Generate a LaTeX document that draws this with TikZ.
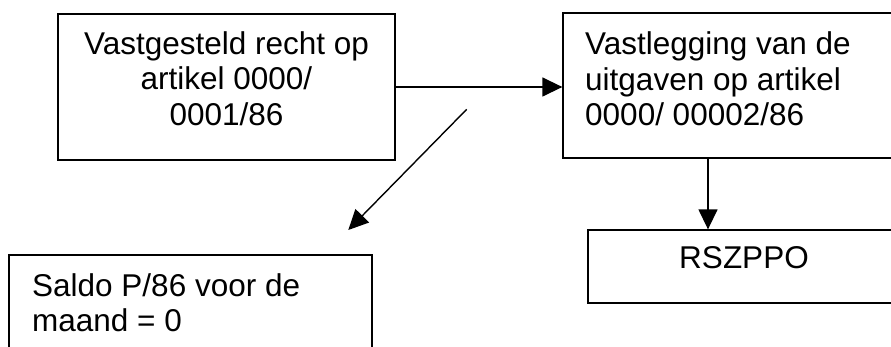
\documentclass[tikz,border=0pt]{standalone}
\usepackage{fontspec}
\setmainfont{Liberation Sans}
\usetikzlibrary{arrows.meta}
\begin{document}
\begin{tikzpicture}[x=1pt,y=-1pt,
  box/.style={draw=black, line width=1.3pt, fill=white, inner sep=0pt},
  txt/.style={inner sep=0pt, font=\fontsize{31.5}{35.5}\selectfont},
  arr/.style={line width=1.4pt, -{Triangle[length=20pt,width=19pt]}}]
\useasboundingbox (0,0) rectangle (891,347);
\clip (0,0) rectangle (891,347);
\fill[white] (0,0) rectangle (891,347);
% boxes
\node[box, minimum width=337pt, minimum height=146pt] (b1) at (226.5,87) {};
\node[box, minimum width=345pt, minimum height=145pt] (b2) at (735.5,85.5) {};
\node[box, minimum width=318pt, minimum height=73pt] (b3) at (747,266.5) {};
\node[box, minimum width=363pt, minimum height=160pt] (b4) at (190.5,335) {};
% texts (base anchor = last line)
\node[txt, align=center, anchor=base] (t1) at (226.5,125.5) {Vastgesteld recht op\\artikel 0000/\\0001/86};
\node[txt, align=left, anchor=base west] (t2) at (585,126) {Vastlegging van de\\uitgaven op artikel\\0000/ 00002/86};
\node[txt, anchor=base] (t3) at (744,269) {RSZPPO};
\node[txt, align=left, anchor=base west] (t4) at (32,331.7) {Saldo P/86 voor de\\maand = 0};
% connectors
\coordinate (v) at (708,0);
\coordinate (d1) at (466.7,109.3);
\coordinate (d2) at (348.3,230);
\draw[arr] (b1.east) -- (b1.east -| b2.west);
\draw[arr] (b2.south -| v) -- (b3.north -| v);
\draw[arr] (d1) -- (d2);
\end{tikzpicture}
\end{document}
